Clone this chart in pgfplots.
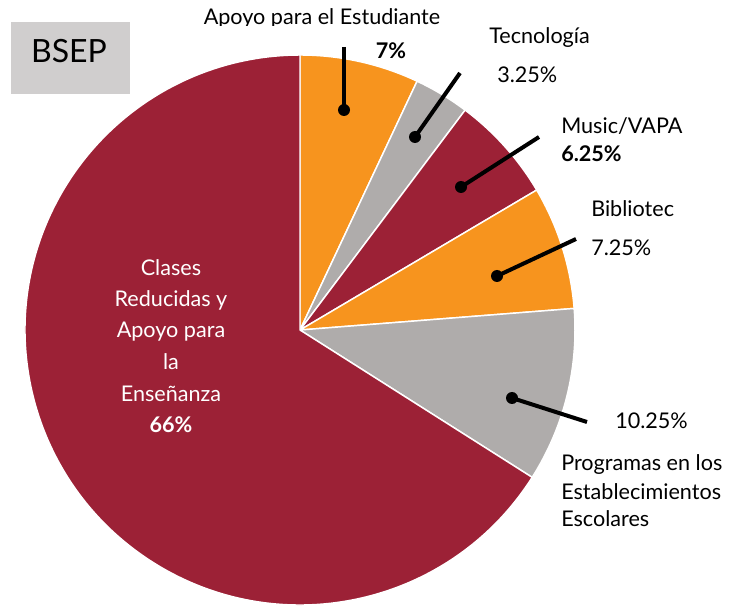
\documentclass[border=0pt]{standalone}
\usepackage{pgfplots}
\usepackage{pgfplotstable}
\pgfplotsset{compat=1.18}
\usepackage{fontspec}
\setmainfont{Lato}
\definecolor{cMaroon}{HTML}{9C2136}
\definecolor{cOrange}{HTML}{F7941E}
\definecolor{cGray}{HTML}{AFACAB}
\definecolor{cBox}{HTML}{D0CECE}
\pgfplotstableread{
label value color
Apoyo 7 cOrange
Tecnologia 3.25 cGray
Music 6.25 cMaroon
Bibliotec 7.25 cOrange
Programas 10.25 cGray
Clases 66 cMaroon
}\piedata
\newcommand\lbl{\fontsize{16.2}{19}\selectfont}
\begin{document}
\begin{tikzpicture}
\begin{axis}[width=549.75pt,height=454.5pt,scale only axis,
  xmin=0,xmax=733,ymin=0,ymax=606,y dir=reverse,hide axis,clip=false]
\addplot[draw=none] coordinates {(0,0) (733,606)};
\path (axis cs:0,0) rectangle (axis cs:733,606);
\def\R{206.25pt}
\def\startang{90}
\pgfplotsforeachungrouped \i in {0,...,5}{%
  \pgfplotstablegetelem{\i}{value}\of\piedata \let\sliceval\pgfplotsretval
  \pgfplotstablegetelem{\i}{color}\of\piedata \let\slicecol\pgfplotsretval
  \pgfmathsetmacro\endang{\startang-3.6*\sliceval}%
  \edef\temp{\noexpand\fill[overlay, \slicecol, draw=white, line width=1.1pt, line join=round] (axis cs:300,330) -- ++(\startang:\R) arc[start angle=\startang, end angle=\endang, radius=\R] -- cycle;}%
  \temp
  \global\let\startang\endang
}
% BSEP box
\fill[cBox] (axis cs:11,22) rectangle (axis cs:130,94);
\node[anchor=base, font=\fontsize{24}{28}\selectfont] at (axis cs:69,63) {BSEP};
% leader lines
\draw[line width=3pt] (axis cs:344,47) -- (axis cs:344,110);
\fill (axis cs:344,110) circle (4.5pt);
\draw[line width=3pt] (axis cs:460,73) -- (axis cs:415,137);
\fill (axis cs:415,137) circle (4.5pt);
\draw[line width=3pt] (axis cs:539,137) -- (axis cs:461,187);
\fill (axis cs:461,187) circle (4.5pt);
\draw[line width=3pt] (axis cs:576,239) -- (axis cs:497,276);
\fill (axis cs:497,276) circle (4.5pt);
\draw[line width=3pt] (axis cs:587,422) -- (axis cs:512,398);
\fill (axis cs:512,398) circle (4.5pt);
% labels
\begin{scope}
\clip (axis cs:150,0) rectangle (axis cs:480,26);
\node[anchor=base, font=\lbl, inner sep=0pt] at (axis cs:322,25) {Apoyo para el Estudiante};
\end{scope}
\node[anchor=base, font=\lbl\bfseries, inner sep=0pt] at (axis cs:391,59) {7\%};
\node[anchor=base west, font=\lbl, inner sep=0pt] at (axis cs:489,44) {Tecnología};
\node[anchor=base west, font=\lbl, inner sep=0pt] at (axis cs:497,83) {3.25\%};
\node[anchor=base west, font=\lbl, inner sep=0pt] at (axis cs:561,134) {Music/VAPA};
\node[anchor=base west, font=\lbl\bfseries, inner sep=0pt] at (axis cs:561,162) {6.25\%};
\node[anchor=base west, font=\lbl, inner sep=0pt] at (axis cs:591,217) {Bibliotec};
\node[anchor=base west, font=\lbl, inner sep=0pt] at (axis cs:591,256) {7.25\%};
\node[anchor=base west, font=\lbl, inner sep=0pt] at (axis cs:615,429) {10.25\%};
\node[anchor=base west, font=\lbl, inner sep=0pt] at (axis cs:561,470) {Programas en los};
\node[anchor=base west, font=\lbl, inner sep=0pt] at (axis cs:561,499) {Establecimientos};
\node[anchor=base west, font=\lbl, inner sep=0pt] at (axis cs:561,526) {Escolares};
\node[anchor=base, font=\lbl, text=white, inner sep=0pt] at (axis cs:171,276) {Clases};
\node[anchor=base, font=\lbl, text=white, inner sep=0pt] at (axis cs:171,307) {Reducidas y};
\node[anchor=base, font=\lbl, text=white, inner sep=0pt] at (axis cs:171,338) {Apoyo para};
\node[anchor=base, font=\lbl, text=white, inner sep=0pt] at (axis cs:171,370) {la};
\node[anchor=base, font=\lbl, text=white, inner sep=0pt] at (axis cs:171,402) {Enseñanza};
\node[anchor=base, font=\lbl\bfseries, text=white, inner sep=0pt] at (axis cs:171,433) {66\%};
\end{axis}
\end{tikzpicture}
\end{document}
